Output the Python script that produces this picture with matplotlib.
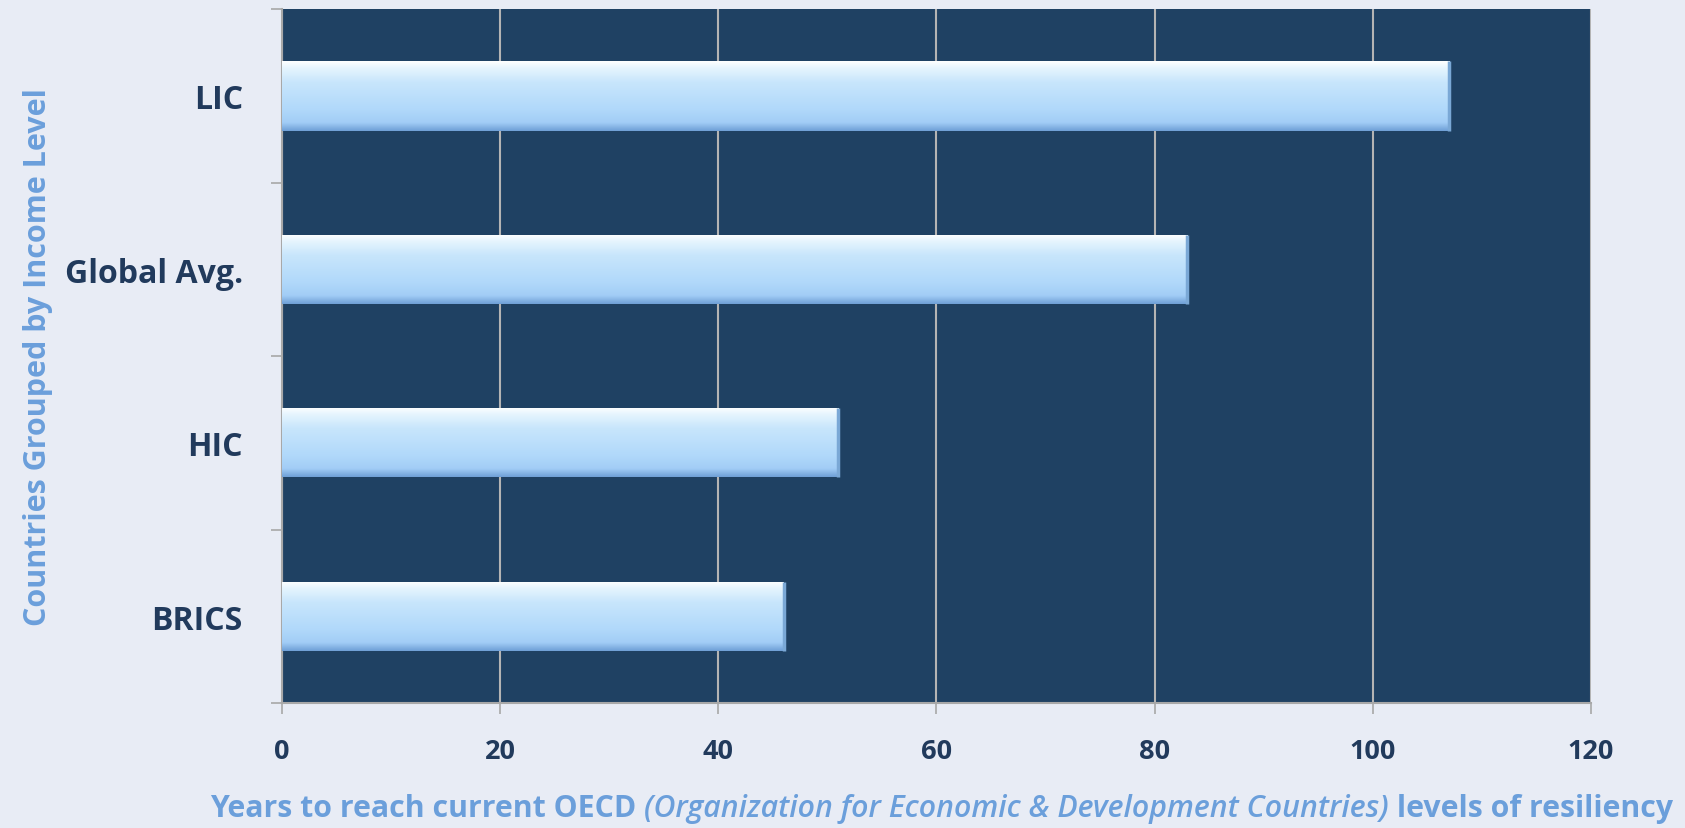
import numpy as np
import matplotlib
matplotlib.use("Agg")
import matplotlib.pyplot as plt
from matplotlib.colors import LinearSegmentedColormap

categories = ["LIC", "Global Avg.", "HIC", "BRICS"]
years = [107, 83, 51, 46]

bg_fig = "#e8ecf5"
bg_ax = "#1f4163"
tick_col = "#213a5c"
label_col = "#6b9fdb"

plt.rcParams["font.family"] = ["Open Sans", "DejaVu Sans"]

fig = plt.figure(figsize=(16.85, 8.29), dpi=100, facecolor=bg_fig)
ax = fig.add_axes([0.1672, 0.1508, 0.777, 0.837])
ax.set_facecolor(bg_ax)

ypos = np.arange(len(categories))
bars = ax.barh(ypos, years, height=0.40, color="#b8dcf8", edgecolor="none", zorder=3)

# glossy vertical gradient on each bar
grad_cmap = LinearSegmentedColormap.from_list(
    "gloss", [(0.0, "#ffffff"), (0.1, "#e6f5fe"), (0.3, "#c8e6fc"),
              (0.7, "#b0d8fa"), (0.88, "#a2cdf6"), (1.0, "#6e9fd6")])
grad = np.linspace(0, 1, 256).reshape(-1, 1)
for b in bars:
    x0, y0, w, h = b.get_x(), b.get_y(), b.get_width(), b.get_height()
    im = ax.imshow(grad, cmap=grad_cmap, aspect="auto",
                   extent=(x0, x0 + w, y0 + h, y0), zorder=4,
                   interpolation="bicubic")
    im.set_clip_path(b)
    # darker bevel at the right end
    ax.plot([x0 + w, x0 + w], [y0, y0 + h], color="#7aa8d6", lw=2.5,
            zorder=5, solid_capstyle="butt")

ax.set_xlim(0, 120)
ax.set_ylim(len(categories) - 0.5, -0.5)
ax.set_xticks(np.arange(0, 121, 20))
ax.set_yticks(ypos)
ax.set_yticklabels(categories)
ax.set_yticks(np.arange(-0.5, len(categories), 1), minor=True)

ax.grid(axis="x", color="#b4b4b4", lw=1.5, zorder=1)
ax.set_axisbelow(True)

for s in ["top", "right"]:
    ax.spines[s].set_visible(False)
for s in ["left", "bottom"]:
    ax.spines[s].set_color("#a8a8a8")
    ax.spines[s].set_linewidth(1.5)

ax.tick_params(axis="y", which="major", length=0, pad=28,
               labelsize=23, labelcolor=tick_col)
ax.tick_params(axis="y", which="minor", length=8, width=1.2, color="#a8a8a8")
ax.tick_params(axis="x", length=8, width=1.2, color="#a8a8a8", pad=17,
               labelsize=19.5, labelcolor=tick_col)
for lab in ax.get_yticklabels() + ax.get_xticklabels():
    lab.set_fontweight("bold")

fig.text(0.0225, 0.1508 + 0.837 / 2, "Countries Grouped by Income Level",
         rotation=90, ha="center", va="center", fontsize=22,
         fontweight="bold", color=label_col)

# x label built from bold / italic pieces, centred under the axes
parts = [("Years to reach current OECD ", "normal", "bold"),
         ("(Organization for Economic & Development Countries)", "italic", "semibold"),
         (" levels of resiliency", "normal", "bold")]
texts = [fig.text(0, 0.014, s, fontsize=21.8, style=st, fontweight=fw,
                  color=label_col, va="baseline") for s, st, fw in parts]
fig.canvas.draw()
r = fig.canvas.get_renderer()
widths = [t.get_window_extent(r).width / fig.bbox.width for t in texts]
cx = 0.1672 + 0.777 / 2 + 0.003
x = cx - sum(widths) / 2
for t, w in zip(texts, widths):
    t.set_x(x)
    x += w

fig.savefig("out.png", dpi=100, facecolor=bg_fig)
